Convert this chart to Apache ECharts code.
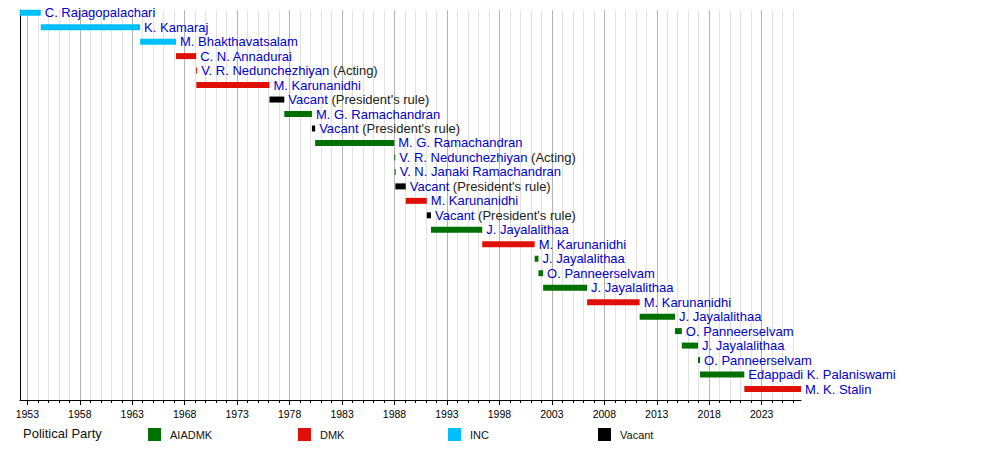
<!DOCTYPE html>
<html>
<head>
<meta charset="utf-8">
<script src="https://cdn.jsdelivr.net/npm/echarts@6/dist/echarts.min.js"></script>
<style>
  html, body { margin: 0; padding: 0; background: #fff; }
  #chart { width: 1000px; height: 450px; }
</style>
</head>
<body>
<div id="chart"></div>
<script>
// officeholders, one row each (top to bottom)
const names = [
  "C. Rajagopalachari", "K. Kamaraj", "M. Bhakthavatsalam", "C. N. Annadurai",
  "V. R. Nedunchezhiyan", "M. Karunanidhi", "Vacant", "M. G. Ramachandran",
  "Vacant", "M. G. Ramachandran", "V. R. Nedunchezhiyan", "V. N. Janaki Ramachandran",
  "Vacant", "M. Karunanidhi", "Vacant", "J. Jayalalithaa", "M. Karunanidhi",
  "J. Jayalalithaa", "O. Panneerselvam", "J. Jayalalithaa", "M. Karunanidhi",
  "J. Jayalalithaa", "O. Panneerselvam", "J. Jayalalithaa", "O. Panneerselvam",
  "Edappadi K. Palaniswami", "M. K. Stalin"
];
const notes = [
  "", "", "", "", "(Acting)", "", "(President's rule)", "", "(President's rule)", "",
  "(Acting)", "", "(President's rule)", "", "(President's rule)", "", "", "", "", "",
  "", "", "", "", "", "", ""
];
// term start / end in decimal years
const starts = [
  1952.273, 1954.279, 1963.751, 1967.175, 1969.090, 1969.110, 1976.082, 1977.496,
  1980.128, 1980.437, 1987.979, 1988.016, 1988.079, 1989.071, 1991.079, 1991.477,
  1996.363, 2001.364, 2001.721, 2002.167, 2006.362, 2011.370, 2014.742, 2015.389,
  2016.932, 2017.126, 2021.347
];
const ends = [
  1954.279, 1963.751, 1967.175, 1969.090, 1969.110, 1976.082, 1977.496, 1980.128,
  1980.437, 1987.979, 1988.016, 1988.079, 1989.071, 1991.079, 1991.477, 1996.363,
  2001.364, 2001.721, 2002.167, 2006.362, 2011.370, 2014.737, 2015.389, 2016.929,
  2017.126, 2021.347, 2026.75
];
const parties = [
  "INC", "INC", "INC", "DMK", "DMK", "DMK", "Vacant", "AIADMK",
  "Vacant", "AIADMK", "AIADMK", "AIADMK", "Vacant", "DMK", "Vacant", "AIADMK",
  "DMK", "AIADMK", "AIADMK", "AIADMK", "DMK", "AIADMK", "AIADMK", "AIADMK",
  "AIADMK", "AIADMK", "DMK"
];

const partyNames = ["AIADMK", "DMK", "INC", "Vacant"];
const partyColors = { AIADMK: "#007000", DMK: "#e01008", INC: "#00bfff", Vacant: "#000000" };

const majorYears = [1953, 1958, 1963, 1968, 1973, 1978, 1983, 1988, 1993, 1998, 2003, 2008, 2013, 2018, 2023];
const minorYears = [
  1954, 1955, 1956, 1957, 1959, 1960, 1961, 1962, 1964, 1965, 1966, 1967, 1969, 1970, 1971, 1972,
  1974, 1975, 1976, 1977, 1979, 1980, 1981, 1982, 1984, 1985, 1986, 1987, 1989, 1990, 1991, 1992,
  1994, 1995, 1996, 1997, 1999, 2000, 2001, 2002, 2004, 2005, 2006, 2007, 2009, 2010, 2011, 2012,
  2014, 2015, 2016, 2017, 2019, 2020, 2021, 2022, 2024, 2025, 2026
];

const FONT = "Liberation Sans, Arial, sans-serif";
const X_MIN = 1952.3, X_MAX = 2026.75;
const Y_MIN = -0.187, Y_MAX = 26.76;

const rows = starts.map(function (s, i) {
  return [s, ends[i], i, parties[i]];
});

function renderItem(params, api) {
  const i = params.dataIndex;
  const row = api.value(2);
  const p0 = api.coord([api.value(0), row]);
  const p1 = api.coord([api.value(1), row]);
  const h = 6;
  const w = Math.max(p1[0] - p0[0], 1);
  let txt = "{n|" + names[i] + "}";
  if (notes[i]) txt += " {s|" + notes[i] + "}";
  return {
    type: "group",
    children: [
      {
        type: "rect",
        shape: { x: p0[0], y: p0[1] - h / 2, width: w, height: h },
        style: { fill: partyColors[parties[i]] }
      },
      {
        type: "text",
        x: p0[0] + w + 4,
        y: p0[1],
        style: {
          text: txt,
          verticalAlign: "middle",
          align: "left",
          fontFamily: FONT,
          fontSize: 13,
          fill: "#222",
          rich: {
            n: { fill: "#0000cc", fontFamily: FONT, fontSize: 13 },
            s: { fill: "#222", fontFamily: FONT, fontSize: 13 }
          }
        }
      }
    ]
  };
}

const chart = echarts.init(document.getElementById("chart"), null, { renderer: "svg" });

const legendSpots = [148, 298, 448, 598];
const plotBox = { left: 20, top: 10, width: 781, height: 390 };
const option = {
  animation: false,
  title: {
    text: "Political Party",
    left: 23,
    top: 427,
    padding: 0,
    textStyle: { fontFamily: FONT, fontSize: 13, fontWeight: "normal", color: "#111" }
  },
  legend: partyNames.map(function (p, k) {
    return {
      data: [p],
      left: legendSpots[k],
      top: 428,
      padding: 0,
      icon: "rect",
      itemWidth: 13,
      itemHeight: 13,
      selectedMode: false,
      textStyle: { fontFamily: FONT, fontSize: 11, color: "#111", padding: [0, 0, 0, 4] }
    };
  }),
  // second grid sits exactly on the first, only for the yearly minor ticks/lines
  grid: [plotBox, plotBox],
  xAxis: [
    {
      type: "value",
      gridIndex: 0,
      position: "bottom",
      min: X_MIN,
      max: X_MAX,
      axisLine: { show: true, onZero: false, lineStyle: { color: "#000", width: 1 } },
      axisTick: { show: true, customValues: majorYears, length: 5, lineStyle: { color: "#000", width: 1 } },
      axisLabel: {
        customValues: majorYears,
        margin: 8,
        fontFamily: FONT,
        fontSize: 10.5,
        color: "#000",
        formatter: function (v) { return String(v); }
      },
      splitLine: { show: true, lineStyle: { color: "#b4b4b4", width: 1 } },
      z: 3
    },
    {
      type: "value",
      gridIndex: 1,
      position: "bottom",
      min: X_MIN,
      max: X_MAX,
      axisLine: { show: true, onZero: false, lineStyle: { color: "#000", width: 1, opacity: 0 } },
      axisTick: { show: true, customValues: minorYears, length: 3, lineStyle: { color: "#000", width: 1, opacity: 1 } },
      axisLabel: { show: false },
      splitLine: { show: true, lineStyle: { color: "#e2e2e2", width: 1 } },
      z: 2
    }
  ],
  yAxis: [
    {
      type: "value",
      gridIndex: 0,
      inverse: true,
      min: Y_MIN,
      max: Y_MAX,
      axisLine: { show: true, onZero: false, lineStyle: { color: "#000", width: 1 } },
      axisTick: { show: false },
      axisLabel: { show: false },
      splitLine: { show: false },
      z: 3
    },
    {
      type: "value",
      gridIndex: 1,
      inverse: true,
      min: Y_MIN,
      max: Y_MAX,
      axisLine: { show: false },
      axisTick: { show: false },
      axisLabel: { show: false },
      splitLine: { show: false }
    }
  ],
  series: [
    {
      type: "custom",
      name: "terms",
      renderItem: renderItem,
      encode: { x: [0, 1], y: 2 },
      data: rows,
      clip: false,
      silent: true,
      z: 5
    }
  ].concat(partyNames.map(function (p) {
    return {
      type: "custom",
      name: p,
      data: [],
      renderItem: function () { return null; },
      itemStyle: { color: partyColors[p] }
    };
  }))
};

chart.setOption(option);
</script>
</body>
</html>
